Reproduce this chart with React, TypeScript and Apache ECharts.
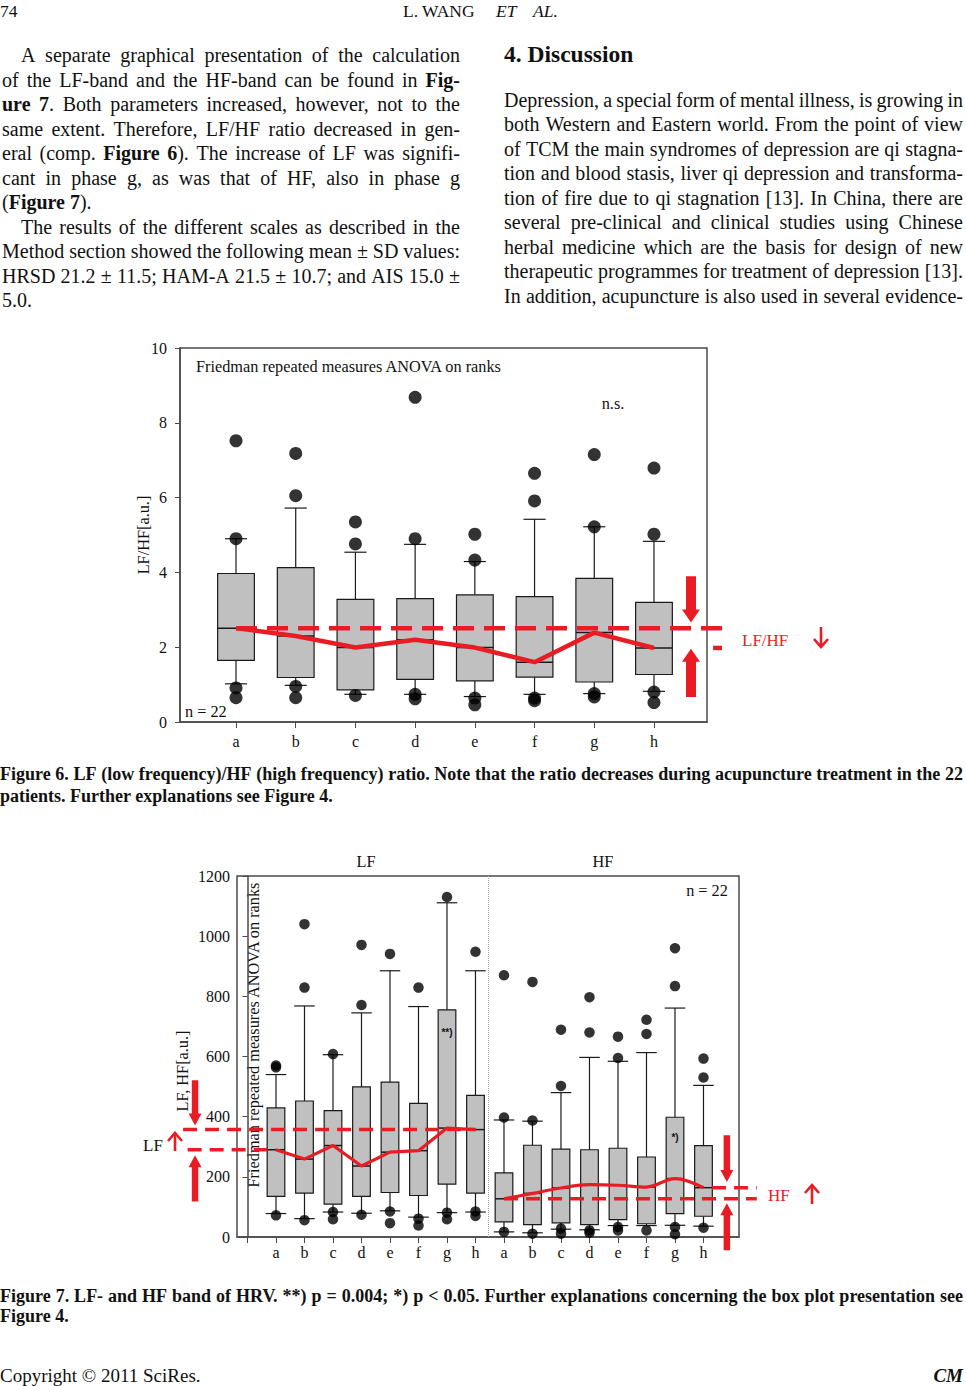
import React, { useEffect, useRef } from 'react';
import * as echarts from 'echarts';

const FONT = 'Liberation Serif';
const RED = '#e91c24';
const BOX_FILL = '#c0c0c0';
const INK = '#1a1a1a';
const FRAME = '#4a4a4a';

// ---------------- Page text ----------------
const headerPage = '74';
const headerAuthor = ['L. WANG', 'ET', 'AL.'];
const leftColumn = [
  'A separate graphical presentation of the calculation',
  'of the LF-band and the HF-band can be found in *Fig-*',
  '*ure 7*. Both parameters increased, however, not to the',
  'same extent. Therefore, LF/HF ratio decreased in gen-',
  'eral (comp. *Figure 6*). The increase of LF was signifi-',
  'cant in phase g, as was that of HF, also in phase g',
  '(*Figure 7*).',
  'The results of the different scales as described in the',
  'Method section showed the following mean ± SD values:',
  'HRSD 21.2 ± 11.5; HAM-A 21.5 ± 10.7; and AIS 15.0 ±',
  '5.0.',
];
const leftIndent = [true, false, false, false, false, false, false, true, false, false, false];
const leftJustify = [true, true, true, true, true, true, false, true, true, true, false];
const rightHeading = '4. Discussion';
const rightColumn = [
  'Depression, a special form of mental illness, is growing in',
  'both Western and Eastern world. From the point of view',
  'of TCM the main syndromes of depression are qi stagna-',
  'tion and blood stasis, liver qi depression and transforma-',
  'tion of fire due to qi stagnation [13]. In China, there are',
  'several pre-clinical and clinical studies using Chinese',
  'herbal medicine which are the basis for design of new',
  'therapeutic programmes for treatment of depression [13].',
  'In addition, acupuncture is also used in several evidence-',
];
const caption6 = [
  'Figure 6. LF (low frequency)/HF (high frequency) ratio. Note that the ratio decreases during acupuncture treatment in the 22',
  'patients. Further explanations see Figure 4.',
];
const caption7 = [
  'Figure 7. LF- and HF band of HRV. **) p = 0.004; *) p < 0.05. Further explanations concerning the box plot presentation see',
  'Figure 4.',
];
const footerLeft = 'Copyright © 2011 SciRes.';
const footerRight = 'CM';

// ---------------- Figure 6: LF/HF ratio ----------------
const phases = ['a', 'b', 'c', 'd', 'e', 'f', 'g', 'h'];
const lfhfMin = [1.02, 0.98, 0.74, 0.74, 0.68, 0.74, 0.76, 0.82];
const lfhfQ1 = [1.65, 1.19, 0.86, 1.14, 1.1, 1.2, 1.07, 1.27];
const lfhfMedian = [2.51, 2.3, 1.99, 2.2, 1.99, 1.6, 2.39, 1.98];
const lfhfQ3 = [3.97, 4.13, 3.28, 3.3, 3.4, 3.35, 3.84, 3.2];
const lfhfMax = [4.9, 5.72, 4.54, 4.75, 4.29, 5.42, 5.22, 4.83];
const lfhfOutliers = [
  [7.52, 4.9, 0.91, 0.65],
  [7.18, 6.05, 0.95, 0.65],
  [5.35, 4.76, 0.71],
  [8.68, 4.9, 0.74, 0.62],
  [5.02, 4.33, 0.64, 0.46],
  [6.65, 5.91, 0.64, 0.57],
  [7.15, 5.22, 0.76, 0.67],
  [6.79, 5.02, 0.8, 0.52],
];
const fig6Title = 'Friedman repeated measures ANOVA on ranks';
const fig6Axis = 'LF/HF[a.u.]';
const fig6Sig = 'n.s.';
const fig6N = 'n = 22';
const fig6Tag = 'LF/HF';
// annotation arrows: [x, tail value, tip value]
const fig6Arrows = [[8.62, 3.9, 2.66], [8.62, 0.67, 1.96]];
// reference dashes: [x from, x to, level]
const fig6Dashes = [[1, 9.22, lfhfMedian[0]], [8.99, 9.14, lfhfMedian[7]]];

// ---------------- Figure 7: LF and HF bands ----------------
const lfMin = [78, 61, 83, 79, 87, 66, 81, 83];
const lfQ1 = [135, 146, 109, 135, 148, 138, 176, 146];
const lfMedian = [290, 259, 304, 236, 282, 287, 362, 357];
const lfQ3 = [429, 452, 420, 499, 515, 444, 755, 471];
const lfMax = [540, 768, 606, 745, 885, 766, 1111, 885];
const lfOutliers = [
  [570, 564, 72], [1040, 829, 56], [608, 83, 59], [971, 771, 74],
  [941, 85, 46], [829, 61, 38], [1130, 81, 59], [948, 85, 70],
];
const hfMin = [17, 14, 26, 24, 38, 38, 39, 36];
const hfQ1 = [50, 41, 47, 41, 58, 44, 78, 69];
const hfMedian = [127, 145, 163, 174, 172, 166, 194, 164];
const hfQ3 = [213, 305, 292, 290, 295, 266, 398, 304];
const hfMax = [389, 385, 480, 597, 584, 613, 761, 504];
const hfOutliers = [
  [870, 397, 17], [848, 387, 11], [689, 502, 28, 11], [797, 680, 22, 14],
  [666, 595, 33, 22], [722, 675, 22], [960, 834, 33, 9], [593, 530, 31],
];
const fig7Groups = ['LF', 'HF'];
const fig7Axis = 'LF, HF[a.u.]';
const fig7Title = 'Friedman repeated measures ANOVA on ranks';
const fig7N = 'n = 22';
const fig7Marks = ['**)', '*)'];
const fig7MarkPos = [[7, 680], [15, 330]];
const fig7LfArrows = [[-1.84, 521, 371], [-1.84, 118, 272]];
const fig7HfArrows = [[16.82, 338, 183], [16.82, -44, 112]];
const fig7Dashes = [
  [-2.26, 8, lfMedian[7]],
  [-2.1, 1, lfMedian[0]],
  [9, 17.87, hfMedian[0]],
  [16.3, 17.87, hfMedian[7]],
];

// ---------------- text helpers ----------------
let measureCtx: CanvasRenderingContext2D | null = null;
function measure(t: string, size: number, b: boolean, i: boolean) {
  if (!measureCtx) measureCtx = document.createElement('canvas').getContext('2d');
  measureCtx!.font = `${i ? 'italic ' : ''}${b ? 'bold ' : ''}${size}px "${FONT}"`;
  return measureCtx!.measureText(t).width;
}
type Run = { t: string; b: boolean; i: boolean };
function parse(line: string, markup: boolean, bold: boolean, ital: boolean): Run[][] {
  const words: Run[][] = [];
  let b = bold;
  let cur: Run[] = [];
  let buf = '';
  const flush = () => {
    if (buf) { cur.push({ t: buf, b, i: ital }); buf = ''; }
  };
  for (const ch of line) {
    if (markup && ch === '*') { flush(); b = !b; }
    else if (ch === ' ') { flush(); if (cur.length) words.push(cur); cur = []; }
    else buf += ch;
  }
  flush();
  if (cur.length) words.push(cur);
  return words;
}
function textEl(t: string, x: number, y: number, size: number, b: boolean, i: boolean, fill: string, align = 'left', rotation = 0) {
  return {
    type: 'text', x, y, rotation, silent: true,
    style: {
      text: t, fontFamily: FONT, fontSize: size, fontWeight: b ? 'bold' : 'normal',
      fontStyle: i ? 'italic' : 'normal', fill, align, verticalAlign: 'middle',
    },
  };
}
function lineEls(line: string, x0: number, x1: number, y: number, size: number, justify: boolean,
  opts: { markup?: boolean; bold?: boolean; italic?: boolean; fill?: string } = {}) {
  const { markup = true, bold = false, italic = false, fill = '#111' } = opts;
  const words = parse(line, markup, bold, italic);
  const hasMixed = words.some((w) => w.length > 1 || w[0].b !== bold);
  if (!justify && !hasMixed) return [textEl(line, x0, y, size, bold, italic, fill)];
  const widths = words.map((w) => w.reduce((s, r) => s + measure(r.t, size, r.b, r.i), 0));
  const total = widths.reduce((a, c) => a + c, 0);
  const space = measure(' ', size, bold, italic);
  const gap = justify && words.length > 1 ? (x1 - x0 - total) / (words.length - 1) : space;
  const els: any[] = [];
  let x = x0;
  words.forEach((w, k) => {
    let rx = x;
    w.forEach((r) => {
      els.push(textEl(r.t, rx, y, size, r.b, r.i, fill));
      rx += measure(r.t, size, r.b, r.i);
    });
    x += widths[k] + gap;
  });
  return els;
}
function thinArrow(cx: number, yTop: number, yBot: number, up: boolean) {
  const tip = up ? yTop : yBot;
  const d = up ? 8 : -8;
  return {
    type: 'group', silent: true,
    children: [
      { type: 'line', shape: { x1: cx, y1: yTop, x2: cx, y2: yBot }, style: { stroke: RED, lineWidth: 2.6 } },
      { type: 'polyline', shape: { points: [[cx - 7, tip + d], [cx, tip], [cx + 7, tip + d]] }, style: { stroke: RED, lineWidth: 2.6, fill: 'none' } },
    ],
  };
}

// ---------------- chart helpers ----------------
function boxRenderer(boxW: number, capW: number) {
  return (_p: any, api: any) => {
    const x = api.value(0);
    const [pMin, pQ1, pMed, pQ3, pMax] = [1, 2, 3, 4, 5].map((d) => api.coord([x, api.value(d)]));
    const cx = pMin[0];
    const bw = api.size([boxW, 0])[0];
    const cw = api.size([capW, 0])[0];
    const ls = { stroke: INK, lineWidth: 1.2 };
    return {
      type: 'group',
      children: [
        { type: 'line', shape: { x1: cx, y1: pMax[1], x2: cx, y2: pQ3[1] }, style: ls },
        { type: 'line', shape: { x1: cx, y1: pQ1[1], x2: cx, y2: pMin[1] }, style: ls },
        { type: 'line', shape: { x1: cx - cw / 2, y1: pMax[1], x2: cx + cw / 2, y2: pMax[1] }, style: ls },
        { type: 'line', shape: { x1: cx - cw / 2, y1: pMin[1], x2: cx + cw / 2, y2: pMin[1] }, style: ls },
        { type: 'rect', shape: { x: cx - bw / 2, y: pQ3[1], width: bw, height: pQ1[1] - pQ3[1] }, style: { fill: BOX_FILL, stroke: INK, lineWidth: 1.2 } },
        { type: 'line', shape: { x1: cx - bw / 2, y1: pMed[1], x2: cx + bw / 2, y2: pMed[1] }, style: { stroke: INK, lineWidth: 1.5 } },
      ],
    };
  };
}
function arrowRenderer(shaftW: number, headW: number, headH: number) {
  return (_p: any, api: any) => {
    const x = api.value(0);
    const a = api.coord([x, api.value(1)]);
    const b = api.coord([x, api.value(2)]);
    const dir = b[1] > a[1] ? 1 : -1;
    const cx = a[0];
    const hb = b[1] - dir * headH;
    return {
      type: 'polygon',
      shape: { points: [[cx - shaftW / 2, a[1]], [cx + shaftW / 2, a[1]], [cx + shaftW / 2, hb], [cx + headW / 2, hb], [cx, b[1]], [cx - headW / 2, hb], [cx - shaftW / 2, hb]] },
      style: { fill: RED },
    };
  };
}
function dashRenderer(width: number, dash: number[]) {
  return (_p: any, api: any) => {
    const y = api.value(2);
    const a = api.coord([api.value(0), y]);
    const b = api.coord([api.value(1), y]);
    return {
      type: 'line',
      shape: { x1: a[0], y1: a[1], x2: b[0], y2: b[1] },
      style: { stroke: RED, lineWidth: width, lineDash: dash },
    };
  };
}
const axisFont = { fontFamily: FONT, fontSize: 16, color: '#111' };

function buildOption() {
  const g: any[] = [];
  // header
  g.push(textEl(headerPage, 0, 11, 17.5, false, false, '#111'));
  g.push(textEl(headerAuthor[0], 403, 11, 17.5, false, false, '#111'));
  g.push(textEl(headerAuthor[1], 496, 11, 17.5, false, true, '#111'));
  g.push(textEl(headerAuthor[2], 533, 11, 17.5, false, true, '#111'));
  // left column
  leftColumn.forEach((l, k) => {
    g.push(...lineEls(l, leftIndent[k] ? 21 : 2, 460, 55 + k * 24.5, 20, leftJustify[k]));
  });
  // right column
  g.push(textEl(rightHeading, 504, 54, 23.5, true, false, '#111'));
  rightColumn.forEach((l, k) => {
    g.push(...lineEls(l, 504, 963, 100 + k * 24.45, 20, true));
  });
  // captions
  g.push(...lineEls(caption6[0], 0, 963, 774, 18, true, { markup: false, bold: true }));
  g.push(...lineEls(caption6[1], 0, 963, 796, 18, false, { markup: false, bold: true }));
  g.push(...lineEls(caption7[0], 0, 963, 1296, 18, true, { markup: false, bold: true }));
  g.push(...lineEls(caption7[1], 0, 963, 1316, 18, false, { markup: false, bold: true }));
  // footer
  g.push(textEl(footerLeft, 0, 1375, 19, false, false, '#111'));
  g.push(textEl(footerRight, 963, 1375, 19, true, true, '#111', 'right'));

  // figure 6 annotations
  g.push(textEl(fig6Title, 196, 366, 16.3, false, false, '#111'));
  g.push(textEl(fig6Sig, 613, 403, 16.3, false, false, '#111', 'center'));
  g.push(textEl(fig6N, 185, 711, 16.3, false, false, '#111'));
  g.push(textEl(fig6Axis, 143, 535, 16.3, false, false, '#111', 'center', Math.PI / 2));
  g.push(textEl(fig6Tag, 742, 640, 17, false, false, RED));
  g.push(thinArrow(821, 627, 647, false));
  // figure 7 annotations
  g.push(textEl(fig7Groups[0], 366, 861, 16.3, false, false, '#111', 'center'));
  g.push(textEl(fig7Groups[1], 603, 861, 16.3, false, false, '#111', 'center'));
  g.push(textEl(fig7N, 707, 890, 16.3, false, false, '#111', 'center'));
  g.push(textEl(fig7Title, 253, 1035, 16.3, false, false, '#111', 'center', Math.PI / 2));
  g.push(textEl(fig7Axis, 182, 1071, 16.3, false, false, '#111', 'center', Math.PI / 2));
  g.push(textEl(fig7Groups[0], 143, 1145, 17, false, false, '#111'));
  g.push(thinArrow(175, 1133, 1151, true));
  g.push(textEl(fig7Groups[1], 768, 1195, 17, false, false, RED));
  g.push(thinArrow(812, 1185, 1204, true));

  // ---- data for series ----
  const f6Box = phases.map((_, i) => [i + 1, lfhfMin[i], lfhfQ1[i], lfhfMedian[i], lfhfQ3[i], lfhfMax[i]]);
  const f6Out = lfhfOutliers.flatMap((arr, i) => arr.map((v) => [i + 1, v]));
  const f6Trend = lfhfMedian.map((v, i) => [i + 1, v]);

  const f7Box = [
    ...phases.map((_, i) => [i + 1, lfMin[i], lfQ1[i], lfMedian[i], lfQ3[i], lfMax[i]]),
    ...phases.map((_, i) => [i + 9, hfMin[i], hfQ1[i], hfMedian[i], hfQ3[i], hfMax[i]]),
  ];
  const f7Out = [
    ...lfOutliers.flatMap((arr, i) => arr.map((v) => [i + 1, v])),
    ...hfOutliers.flatMap((arr, i) => arr.map((v) => [i + 9, v])),
  ];
  const lfTrend = lfMedian.map((v, i) => [i + 1, v]);
  const hfTrend = hfMedian.map((v, i) => [i + 9, v]);

  const lineBase = { type: 'line', symbol: 'none', clip: false, silent: true };
  const f7Ticks = Array.from({ length: 17 }, (_, i) => i);

  return {
    animation: false,
    backgroundColor: '#fff',
    grid: [
      { left: 180, top: 348, width: 527, height: 374, show: true, borderColor: FRAME, borderWidth: 1.5, backgroundColor: 'transparent' },
      { left: 237, top: 876, width: 502, height: 361, show: true, borderColor: FRAME, borderWidth: 1.5, backgroundColor: 'transparent' },
    ],
    xAxis: [
      {
        gridIndex: 0, type: 'value', min: 0.062, max: 8.888,
        axisLine: { show: true, onZero: false, lineStyle: { color: FRAME, width: 1.5 } },
        axisTick: { show: true, customValues: [1, 2, 3, 4, 5, 6, 7, 8], length: 6, lineStyle: { color: FRAME } },
        axisLabel: { customValues: [1, 2, 3, 4, 5, 6, 7, 8], margin: 11, ...axisFont, formatter: (v: number) => (Number.isInteger(v) ? phases[v - 1] || '' : '') },
        splitLine: { show: false },
      },
      {
        gridIndex: 1, type: 'value', min: -0.368, max: 17.246,
        axisLine: { show: true, onZero: false, lineStyle: { color: FRAME, width: 1.5 } },
        axisTick: { show: true, customValues: f7Ticks, length: 6, lineStyle: { color: FRAME } },
        axisLabel: { customValues: f7Ticks.slice(1), margin: 7, ...axisFont, formatter: (v: number) => (Number.isInteger(v) && v >= 1 ? phases[(v - 1) % 8] : '') },
        splitLine: { show: false },
      },
    ],
    yAxis: [
      {
        gridIndex: 0, type: 'value', min: 0, max: 10, interval: 2,
        axisLine: { show: true, lineStyle: { color: FRAME, width: 1.5 } },
        axisTick: { show: true, length: 5, lineStyle: { color: FRAME } },
        axisLabel: { margin: 13, ...axisFont, formatter: (v: number) => String(v) },
        splitLine: { show: false },
      },
      {
        gridIndex: 1, type: 'value', min: 0, max: 1200, interval: 200,
        axisLine: { show: true, lineStyle: { color: FRAME, width: 1.5 } },
        axisTick: { show: true, length: 5, lineStyle: { color: FRAME } },
        axisLabel: { margin: 7, ...axisFont, formatter: (v: number) => String(v) },
        splitLine: { show: false },
      },
    ],
    series: [
      // ---- Figure 6 ----
      {
        type: 'custom', name: 'LF/HF box', xAxisIndex: 0, yAxisIndex: 0, data: f6Box, z: 2,
        encode: { x: 0, y: [1, 2, 3, 4, 5] }, renderItem: boxRenderer(0.615, 0.37), silent: true,
      },
      {
        type: 'scatter', name: 'LF/HF outliers', xAxisIndex: 0, yAxisIndex: 0, data: f6Out, z: 3,
        symbolSize: 13, itemStyle: { color: '#000' }, silent: true,
      },
      {
        type: 'custom', name: 'LF/HF reference', xAxisIndex: 0, yAxisIndex: 0, data: fig6Dashes, z: 4, clip: false,
        encode: { x: [0, 1], y: 2 }, renderItem: dashRenderer(4.5, [21, 10]), silent: true,
      },
      { ...lineBase, name: 'LF/HF median', xAxisIndex: 0, yAxisIndex: 0, z: 5, data: f6Trend, lineStyle: { color: RED, width: 4.5 } },
      {
        type: 'custom', name: 'LF/HF arrows', xAxisIndex: 0, yAxisIndex: 0, data: fig6Arrows, z: 6, clip: false,
        encode: { x: 0, y: [1, 2] }, renderItem: arrowRenderer(10, 18, 13), silent: true,
      },
      // ---- Figure 7 ----
      {
        type: 'custom', name: 'LF HF box', xAxisIndex: 1, yAxisIndex: 1, data: f7Box, z: 2,
        encode: { x: 0, y: [1, 2, 3, 4, 5] }, renderItem: boxRenderer(0.62, 0.72), silent: true,
        markLine: {
          silent: true, symbol: 'none', label: { show: false },
          lineStyle: { type: 'dotted', color: '#9a9a9a', width: 1 },
          data: [{ xAxis: 8.45 }],
        },
      },
      {
        type: 'scatter', name: 'LF HF outliers', xAxisIndex: 1, yAxisIndex: 1, data: f7Out, z: 3,
        symbolSize: 10.5, itemStyle: { color: '#000' }, silent: true,
      },
      {
        type: 'custom', name: 'LF HF reference', xAxisIndex: 1, yAxisIndex: 1, data: fig7Dashes, z: 4, clip: false,
        encode: { x: [0, 1], y: 2 }, renderItem: dashRenderer(3.5, [14, 8]), silent: true,
      },
      { ...lineBase, name: 'LF median', xAxisIndex: 1, yAxisIndex: 1, z: 5, data: lfTrend, lineStyle: { color: RED, width: 3.2 } },
      { ...lineBase, name: 'HF median', xAxisIndex: 1, yAxisIndex: 1, z: 5, data: hfTrend, smooth: 0.35, lineStyle: { color: RED, width: 3.2 } },
      {
        type: 'custom', name: 'LF HF arrows', xAxisIndex: 1, yAxisIndex: 1, data: [...fig7LfArrows, ...fig7HfArrows], z: 6, clip: false,
        encode: { x: 0, y: [1, 2] }, renderItem: arrowRenderer(6.5, 13, 12), silent: true,
      },
      {
        type: 'custom', name: 'significance', xAxisIndex: 1, yAxisIndex: 1, data: fig7MarkPos, z: 7, silent: true,
        encode: { x: 0, y: 1 },
        renderItem: (p: any, api: any) => {
          const pt = api.coord([api.value(0), api.value(1)]);
          return {
            type: 'text', x: pt[0], y: pt[1],
            style: { text: fig7Marks[p.dataIndex], fontFamily: 'Liberation Sans', fontSize: 10, fontWeight: 'bold', fill: '#111', align: 'center', verticalAlign: 'middle' },
          };
        },
      },
    ],
    graphic: { elements: g },
  };
}

export default function App() {
  const ref = useRef<HTMLDivElement>(null);
  useEffect(() => {
    const el = ref.current!;
    const chart = echarts.init(el, undefined, { renderer: 'svg' });
    chart.setOption(buildOption() as any);
    return () => chart.dispose();
  }, []);
  return (
    <div
      ref={ref}
      style={{ position: 'absolute', left: 0, top: 0, width: 966, height: 1386, background: '#fff' }}
    />
  );
}
